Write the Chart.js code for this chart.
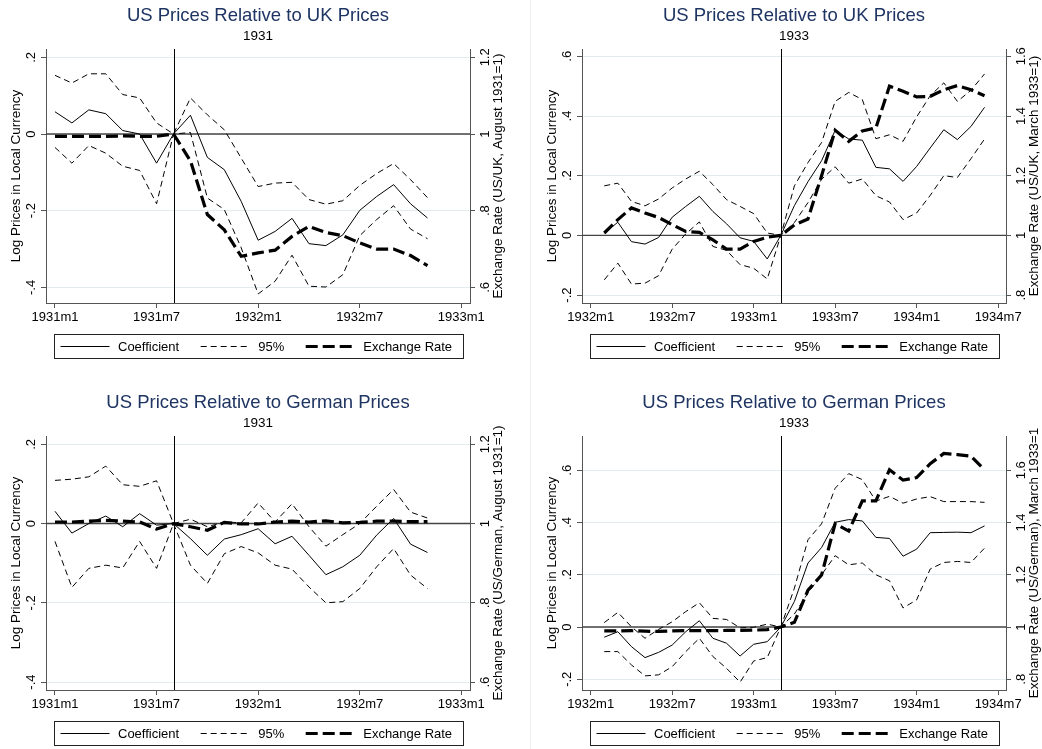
<!DOCTYPE html>
<html>
<head>
<meta charset="utf-8">
<script src="https://cdn.jsdelivr.net/npm/chart.js@4.4.1/dist/chart.umd.min.js"></script>
<style>
  body { margin: 0; background: #fff; width: 1042px; height: 749px; position: relative; overflow: hidden; }
  canvas { position: absolute; }
  .sep { position: absolute; left: 530px; top: 0; width: 1px; height: 749px; background: #efefef; }
</style>
</head>
<body>
<div class="sep"></div>
<canvas id="p1" width="521" height="375" style="left:0;top:0"></canvas>
<canvas id="p2" width="521" height="375" style="left:521px;top:0"></canvas>
<canvas id="p3" width="521" height="363" style="left:0;top:386px"></canvas>
<canvas id="p4" width="521" height="363" style="left:521px;top:386px"></canvas>
<script>
// Stata-style event-study panels: price coefficients vs exchange rate

const FONT = '"Liberation Sans", Arial, Helvetica, sans-serif';

// ---- Months (categories) ----
const months1931 = [
    "1931m1", "1931m2", "1931m3", "1931m4", "1931m5", "1931m6", "1931m7", "1931m8",
    "1931m9", "1931m10", "1931m11", "1931m12", "1932m1", "1932m2", "1932m3", "1932m4",
    "1932m5", "1932m6", "1932m7", "1932m8", "1932m9", "1932m10", "1932m11"
];
const months1933 = [
    "1932m2", "1932m3", "1932m4", "1932m5", "1932m6", "1932m7", "1932m8", "1932m9",
    "1932m10", "1932m11", "1932m12", "1933m1", "1933m2", "1933m3", "1933m4", "1933m5",
    "1933m6", "1933m7", "1933m8", "1933m9", "1933m10", "1933m11", "1933m12", "1934m1",
    "1934m2", "1934m3", "1934m4", "1934m5", "1934m6"
];

// ---- Tick labels ----
const xTicks1931 = ["1931m1", "1931m7", "1932m1", "1932m7", "1933m1"];
const xTicks1933 = ["1932m1", "1932m7", "1933m1", "1933m7", "1934m1", "1934m7"];
const yTicks1931 = [-0.4, -0.2, 0, 0.2];
const fxTicks1931 = [0.6, 0.8, 1, 1.2];
const yTicks1933 = [-0.2, 0, 0.2, 0.4, 0.6];
const fxTicks1933 = [0.8, 1, 1.2, 1.4, 1.6];

// ---- US vs UK, 1931 ----
const ukCoef31  = [0.058, 0.029, 0.063, 0.053, 0.009, 0.000, -0.076, 0, 0.049, -0.061, -0.093, -0.176, -0.277, -0.254, -0.220, -0.286, -0.291, -0.263, -0.199, -0.163, -0.132, -0.182, -0.219];
const ukUpper31 = [0.153, 0.133, 0.157, 0.157, 0.103, 0.094, 0.029, 0, 0.094, 0.050, 0.011, -0.063, -0.137, -0.128, -0.126, -0.171, -0.183, -0.174, -0.134, -0.103, -0.077, -0.119, -0.166];
const ukLower31 = [-0.035, -0.076, -0.030, -0.050, -0.084, -0.095, -0.182, 0, 0.004, -0.167, -0.197, -0.297, -0.417, -0.384, -0.316, -0.397, -0.399, -0.367, -0.265, -0.223, -0.187, -0.248, -0.273];
const ukFx31    = [0.994, 0.994, 0.994, 0.994, 0.995, 0.994, 0.994, 1, 0.930, 0.790, 0.750, 0.681, 0.690, 0.697, 0.733, 0.759, 0.743, 0.735, 0.716, 0.700, 0.700, 0.683, 0.657];

// ---- US vs UK, 1933 ----
const ukCoef33  = [0.008, 0.044, -0.021, -0.029, -0.007, 0.061, 0.097, 0.131, 0.080, 0.039, -0.008, -0.020, -0.079, 0, 0.100, 0.180, 0.250, 0.352, 0.323, 0.319, 0.228, 0.223, 0.181, 0.231, 0.293, 0.354, 0.321, 0.365, 0.429];
const ukUpper33 = [0.166, 0.175, 0.114, 0.099, 0.122, 0.159, 0.189, 0.215, 0.170, 0.120, 0.097, 0.073, 0.008, 0, 0.166, 0.244, 0.311, 0.449, 0.479, 0.455, 0.324, 0.337, 0.315, 0.397, 0.468, 0.511, 0.449, 0.486, 0.541];
const ukLower33 = [-0.149, -0.093, -0.163, -0.160, -0.135, -0.046, 0.005, 0.045, -0.037, -0.050, -0.098, -0.110, -0.146, 0, 0.043, 0.110, 0.188, 0.230, 0.175, 0.189, 0.133, 0.112, 0.053, 0.075, 0.134, 0.200, 0.194, 0.257, 0.323];
const ukFx33    = [1.008, 1.053, 1.092, 1.075, 1.060, 1.036, 1.013, 1.010, 0.985, 0.954, 0.954, 0.980, 0.994, 1, 1.035, 1.055, 1.200, 1.352, 1.315, 1.350, 1.360, 1.500, 1.483, 1.464, 1.466, 1.488, 1.502, 1.488, 1.468];

// ---- US vs Germany, 1931 ----
const deCoef31  = [0.031, -0.024, 0.000, 0.019, -0.008, 0.025, -0.004, 0, -0.038, -0.080, -0.039, -0.028, -0.013, -0.051, -0.032, -0.080, -0.129, -0.109, -0.080, -0.029, 0.013, -0.052, -0.073];
const deUpper31 = [0.109, 0.112, 0.118, 0.145, 0.098, 0.094, 0.108, 0, 0.011, -0.008, 0.004, 0.002, 0.052, 0.004, 0.050, -0.008, -0.057, -0.028, 0.000, 0.044, 0.086, 0.029, 0.014];
const deLower31 = [-0.045, -0.161, -0.113, -0.105, -0.112, -0.045, -0.113, 0, -0.105, -0.151, -0.076, -0.058, -0.074, -0.105, -0.115, -0.160, -0.200, -0.197, -0.164, -0.109, -0.063, -0.130, -0.164];
const deFx31    = [1.004, 1.004, 1.006, 1.008, 1.006, 1.004, 0.986, 1, 0.992, 0.983, 1.003, 0.999, 0.999, 1.004, 1.006, 1.004, 1.007, 1.002, 1.003, 1.006, 1.006, 1.005, 1.005];

// ---- US vs Germany, 1933 ----
const deCoef33  = [-0.039, -0.018, -0.075, -0.117, -0.097, -0.069, -0.018, 0.024, -0.043, -0.062, -0.111, -0.066, -0.056, 0, 0.098, 0.245, 0.304, 0.401, 0.411, 0.406, 0.343, 0.339, 0.271, 0.298, 0.361, 0.362, 0.363, 0.361, 0.387];
const deUpper33 = [0.017, 0.056, 0.001, -0.043, -0.009, 0.020, 0.059, 0.093, 0.033, 0.029, -0.003, -0.001, 0.011, 0, 0.149, 0.334, 0.395, 0.531, 0.587, 0.564, 0.482, 0.500, 0.474, 0.490, 0.499, 0.480, 0.480, 0.480, 0.477];
const deLower33 = [-0.094, -0.094, -0.145, -0.187, -0.183, -0.152, -0.094, -0.043, -0.113, -0.158, -0.211, -0.130, -0.117, 0, 0.050, 0.130, 0.200, 0.273, 0.238, 0.245, 0.200, 0.177, 0.073, 0.104, 0.222, 0.247, 0.251, 0.247, 0.302];
const deFx33    = [0.985, 0.985, 0.986, 0.984, 0.983, 0.985, 0.986, 0.986, 0.986, 0.987, 0.987, 0.988, 0.990, 1, 1.018, 1.141, 1.199, 1.396, 1.367, 1.483, 1.483, 1.602, 1.562, 1.572, 1.625, 1.664, 1.660, 1.654, 1.602];

// ---- Panel setup (plot box in canvas pixels, axis ranges) ----
const panels = [
    { id: "p1", title: "US Prices Relative to UK Prices", sub: "1931",
      months: months1931, coef: ukCoef31, upper: ukUpper31, lower: ukLower31, fx: ukFx31,
      event: "1931m8", xTicks: xTicks1931, yTicks: yTicks1931, fxTicks: fxTicks1931,
      xMin: -0.53, xMax: 24.51, yMin: -0.4407, yMax: 0.2217,
      rightTitle: "Exchange Rate (US/UK, August 1931=1)",
      W: 521, H: 375, L: 46, R: 470, T: 49, B: 303 },
    { id: "p2", title: "US Prices Relative to UK Prices", sub: "1933",
      months: months1933, coef: ukCoef33, upper: ukUpper33, lower: ukLower33, fx: ukFx33,
      event: "1933m3", xTicks: xTicks1933, yTicks: yTicks1933, fxTicks: fxTicks1933,
      xMin: -0.64, xMax: 30.58, yMin: -0.2265, yMax: 0.6245,
      rightTitle: "Exchange Rate (US/UK, March 1933=1)",
      W: 521, H: 375, L: 61, R: 485, T: 49, B: 303 },
    { id: "p3", title: "US Prices Relative to German Prices", sub: "1931",
      months: months1931, coef: deCoef31, upper: deUpper31, lower: deLower31, fx: deFx31,
      event: "1931m8", xTicks: xTicks1931, yTicks: yTicks1931, fxTicks: fxTicks1931,
      xMin: -0.53, xMax: 24.51, yMin: -0.420, yMax: 0.221,
      rightTitle: "Exchange Rate (US/German, August 1931=1)",
      W: 521, H: 363, L: 46, R: 470, T: 50, B: 304 },
    { id: "p4", title: "US Prices Relative to German Prices", sub: "1933",
      months: months1933, coef: deCoef33, upper: deUpper33, lower: deLower33, fx: deFx33,
      event: "1933m3", xTicks: xTicks1933, yTicks: yTicks1933, fxTicks: fxTicks1933,
      xMin: -0.64, xMax: 30.58, yMin: -0.241, yMax: 0.731,
      rightTitle: "Exchange Rate (US/German), March 1933=1",
      W: 521, H: 363, L: 61, R: 485, T: 50, B: 304 }
];

// "1931m8" -> absolute month number, and back
function monthIndex(label) {
    const [y, m] = label.split("m").map(Number);
    return y * 12 + (m - 1);
}
function monthLabel(v) {
    const n = Math.round(v);
    return Math.floor(n / 12) + "m" + (n % 12 + 1);
}

// Stata-ish number format: .2, -.4, 1.2, 0
function stataNum(v) {
    let s = String(Math.round(v * 10) / 10);
    if (s.startsWith("0.")) s = s.slice(1);
    else if (s.startsWith("-0.")) s = "-" + s.slice(2);
    return s;
}

function rotatedText(ctx, text, x, y, font) {
    ctx.save();
    ctx.translate(x, y);
    ctx.rotate(-Math.PI / 2);
    ctx.font = font;
    ctx.textAlign = "center";
    ctx.textBaseline = "middle";
    ctx.fillStyle = "#000";
    ctx.fillText(text, 0, 0);
    ctx.restore();
}

// ---- Plugin: zero line, event line, titles, rotated y labels, boxed legend ----
const stataPlugin = {
    id: "stata",
    beforeDatasetsDraw(chart, args, opts) {
        const { ctx, chartArea: a, scales } = chart;
        ctx.save();
        // horizontal zero line
        const y0 = scales.y.getPixelForValue(0);
        ctx.strokeStyle = "#444";
        ctx.lineWidth = 1.4;
        ctx.beginPath();
        ctx.moveTo(a.left, y0);
        ctx.lineTo(a.right, y0);
        ctx.stroke();
        // event month
        const xe = Math.round(scales.x.getPixelForValue(monthIndex(opts.event))) + 0.5;
        ctx.strokeStyle = "#000";
        ctx.lineWidth = 1;
        ctx.beginPath();
        ctx.moveTo(xe, a.top);
        ctx.lineTo(xe, a.bottom);
        ctx.stroke();
        ctx.restore();
    },
    afterDraw(chart, args, opts) {
        const { ctx, chartArea: a, scales } = chart;
        const cx = (a.left + a.right) / 2;
        const cy = (a.top + a.bottom) / 2;
        ctx.save();

        // title + subtitle
        ctx.textAlign = "center";
        ctx.textBaseline = "middle";
        ctx.fillStyle = "#1e3462";
        ctx.font = "18.5px " + FONT;
        ctx.fillText(opts.title, cx, a.top - 33);
        ctx.fillStyle = "#000";
        ctx.font = "13.5px " + FONT;
        ctx.fillText(opts.sub, cx, a.top - 13);

        // rotated tick labels on both y axes
        const tickFont = "13px " + FONT;
        scales.y.ticks.forEach(t => {
            rotatedText(ctx, stataNum(t.value), a.left - 15, scales.y.getPixelForValue(t.value), tickFont);
        });
        scales.y2.ticks.forEach(t => {
            rotatedText(ctx, stataNum(t.value), a.right + 15, scales.y2.getPixelForValue(t.value), tickFont);
        });

        // axis titles
        const axFont = "13.5px " + FONT;
        rotatedText(ctx, "Log Prices in Local Currency", a.left - 30, cy, axFont);
        rotatedText(ctx, opts.rightTitle, a.right + 28, cy, axFont);

        // legend box
        ctx.font = "13px " + FONT;
        const items = chart.data.datasets.filter(d => !d.noLegend);
        const keyLen = 49, keyGap = 8.5, itemGap = 21.5;
        const bw = 409, bh = 24;
        const bx = Math.round(cx - bw / 2) + 0.5;
        const by = Math.round(a.bottom + 31) + 0.5;
        ctx.strokeStyle = "#222";
        ctx.lineWidth = 1;
        ctx.setLineDash([]);
        ctx.strokeRect(bx, by, bw, bh);

        let x = bx + 6;
        const ly = by + bh / 2;
        ctx.textAlign = "left";
        ctx.textBaseline = "middle";
        items.forEach(d => {
            ctx.beginPath();
            ctx.setLineDash(d.borderDash || []);
            ctx.lineWidth = d.borderWidth;
            ctx.strokeStyle = d.borderColor;
            ctx.moveTo(x, ly);
            ctx.lineTo(x + keyLen, ly);
            ctx.stroke();
            ctx.setLineDash([]);
            x += keyLen + keyGap;
            ctx.fillStyle = "#000";
            ctx.fillText(d.label, x, ly + 0.5);
            x += ctx.measureText(d.label).width + itemGap;
        });
        ctx.restore();
    }
};

function makeChart(p) {
    const pts = vals => p.months.map((m, i) => ({ x: monthIndex(m), y: vals[i] }));
    const base = monthIndex(p.xTicks[0]);

    new Chart(document.getElementById(p.id), {
        type: "line",
        data: {
            datasets: [
                { label: "Coefficient", data: pts(p.coef), borderColor: "#000", borderWidth: 1, yAxisID: "y" },
                { label: "95%", data: pts(p.upper), borderColor: "#000", borderWidth: 1, borderDash: [6, 4], yAxisID: "y" },
                { label: "95%", data: pts(p.lower), borderColor: "#000", borderWidth: 1, borderDash: [6, 4], yAxisID: "y", noLegend: true },
                { label: "Exchange Rate", data: pts(p.fx), borderColor: "#000", borderWidth: 3.2, borderDash: [12, 5], yAxisID: "y2" }
            ]
        },
        options: {
            responsive: false,
            animation: false,
            events: [],
            elements: { point: { radius: 0 }, line: { tension: 0, fill: false } },
            layout: { padding: { top: p.T, bottom: p.H - p.B - 22, left: 0, right: 0 } },
            plugins: {
                legend: { display: false },
                tooltip: { enabled: false },
                stata: { title: p.title, sub: p.sub, event: p.event, rightTitle: p.rightTitle }
            },
            scales: {
                x: {
                    type: "linear",
                    min: base + p.xMin,
                    max: base + p.xMax,
                    afterFit: s => { s.height = 22; },
                    afterBuildTicks: s => { s.ticks = p.xTicks.map(t => ({ value: monthIndex(t) })); },
                    ticks: {
                        callback: v => monthLabel(v),
                        font: { family: FONT, size: 13 },
                        color: "#000",
                        padding: 2,
                        maxRotation: 0,
                        autoSkip: false
                    },
                    grid: { drawOnChartArea: false, drawTicks: true, tickLength: 5, tickColor: "#555" },
                    border: { color: "#555", width: 1 }
                },
                y: {
                    position: "left",
                    min: p.yMin,
                    max: p.yMax,
                    afterFit: s => { s.width = p.L; },
                    afterBuildTicks: s => { s.ticks = p.yTicks.map(v => ({ value: v })); },
                    ticks: { display: false },
                    grid: { color: "#e2ecee", lineWidth: 1, tickLength: 5, tickColor: "#555" },
                    border: { color: "#555", width: 1 }
                },
                y2: {
                    position: "right",
                    min: p.yMin + 1,
                    max: p.yMax + 1,
                    afterFit: s => { s.width = p.W - p.R; },
                    afterBuildTicks: s => { s.ticks = p.fxTicks.map(v => ({ value: v })); },
                    ticks: { display: false },
                    grid: { drawOnChartArea: false, tickLength: 5, tickColor: "#555" },
                    border: { color: "#555", width: 1 }
                }
            }
        },
        plugins: [stataPlugin]
    });
}

panels.forEach(makeChart);
</script>
</body>
</html>
